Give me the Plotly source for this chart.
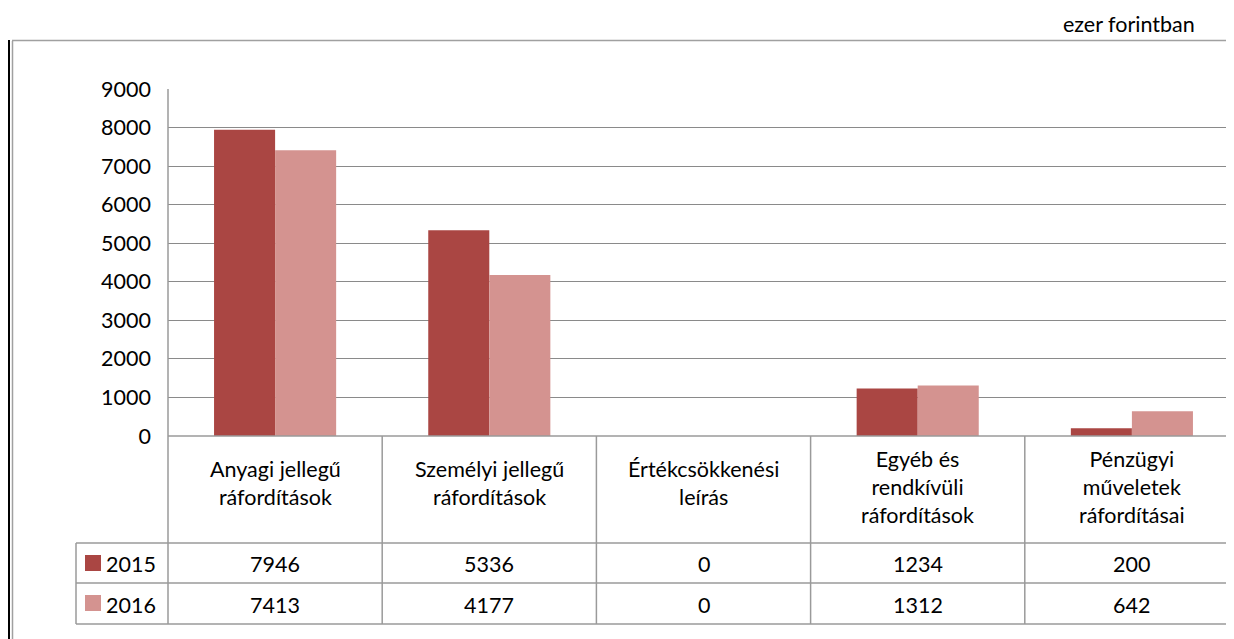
import plotly.graph_objects as go

categories = ["Anyagi jellegű<br>ráfordítások", "Személyi jellegű<br>ráfordítások",
              "Értékcsökkenési<br>leírás", "Egyéb és<br>rendkívüli<br>ráfordítások",
              "Pénzügyi<br>műveletek<br>ráfordításai"]
series_names = ["2015", "2016"]
values_2015 = [7946, 5336, 0, 1234, 200]
values_2016 = [7413, 4177, 0, 1312, 642]
y_ticks = [0, 1000, 2000, 3000, 4000, 5000, 6000, 7000, 8000, 9000]
unit_label = "ezer forintban"

W, H = 1234, 639
OX, OY = 8, 8  # page body offset
FONT = "Lato"
FS = 21.5
C15 = "#AA4643"
C16 = "#D49390"
LINE = "#9a9a9a"
GRID = "#8a8a8a"

# target pixel layout (screen coordinates)
X0 = 168
Y_TOP, Y_ZERO = 89, 436
HEAD_BOT, ROW1_BOT, ROW2_BOT = 543, 583, 624
LEG_LEFT = 76


def px(x):
    return (x - OX) / W


def py(y):
    return (H - (y - OY)) / H


cat_w = 214.2
n = len(categories)
xr = [-0.5, -0.5 + (W + OX - X0) / cat_w]

fig = go.Figure()
fig.add_trace(go.Bar(x=list(range(n)), y=values_2015, name=series_names[0],
                     marker=dict(color=C15, line=dict(width=0))))
fig.add_trace(go.Bar(x=list(range(n)), y=values_2016, name=series_names[1],
                     marker=dict(color=C16, line=dict(width=0))))

shapes = []
for yy in [HEAD_BOT, ROW1_BOT, ROW2_BOT]:
    shapes.append(dict(type="line", xref="paper", yref="paper",
                       x0=px(LEG_LEFT), x1=1.0, y0=py(yy), y1=py(yy),
                       line=dict(color=LINE, width=1.5)))
shapes.append(dict(type="line", xref="paper", yref="paper",
                   x0=px(X0), x1=1.0, y0=py(Y_ZERO), y1=py(Y_ZERO),
                   line=dict(color=LINE, width=1.5)))
shapes.append(dict(type="line", xref="paper", yref="paper",
                   x0=px(X0), x1=px(X0), y0=py(Y_TOP), y1=py(ROW2_BOT),
                   line=dict(color=LINE, width=1.5)))
shapes.append(dict(type="line", xref="paper", yref="paper",
                   x0=px(LEG_LEFT), x1=px(LEG_LEFT), y0=py(HEAD_BOT), y1=py(ROW2_BOT),
                   line=dict(color=LINE, width=1.5)))
for i in range(1, n + 1):
    shapes.append(dict(type="line", xref="x", yref="paper",
                       x0=i - 0.5, x1=i - 0.5, y0=py(Y_ZERO), y1=py(ROW2_BOT),
                       line=dict(color=LINE, width=1.5)))
# outer chart border
shapes.append(dict(type="line", xref="paper", yref="paper",
                   x0=px(9), x1=px(9), y0=py(40), y1=py(H + 10),
                   line=dict(color="#000000", width=2)))
shapes.append(dict(type="line", xref="paper", yref="paper",
                   x0=px(12.5), x1=px(12.5), y0=py(41), y1=py(H + 10),
                   line=dict(color="#a0a0a0", width=1.5)))
shapes.append(dict(type="line", xref="paper", yref="paper",
                   x0=px(12), x1=1.0, y0=py(40.5), y1=py(40.5),
                   line=dict(color="#a0a0a0", width=1.5)))
for yy, col in [(563, C15), (603, C16)]:
    shapes.append(dict(type="rect", xref="paper", yref="paper",
                       x0=px(85), x1=px(101), y0=py(yy - 8), y1=py(yy + 8),
                       fillcolor=col, line=dict(width=0)))

annotations = []
for i, cat in enumerate(categories):
    lines = cat.count("<br>") + 1
    yc = 483 if lines == 2 else 487
    annotations.append(dict(x=i, xref="x", y=py(yc), yref="paper", text=cat,
                            showarrow=False, align="center", xanchor="center",
                            yanchor="middle", font=dict(family=FONT, size=FS, color="#000")))
    annotations.append(dict(x=i, xref="x", y=py(564), yref="paper", text=str(values_2015[i]),
                            showarrow=False, xanchor="center", yanchor="middle",
                            font=dict(family=FONT, size=FS, color="#000")))
    annotations.append(dict(x=i, xref="x", y=py(605), yref="paper", text=str(values_2016[i]),
                            showarrow=False, xanchor="center", yanchor="middle",
                            font=dict(family=FONT, size=FS, color="#000")))
for yy, name in [(564, series_names[0]), (605, series_names[1])]:
    annotations.append(dict(x=px(104), xref="paper", y=py(yy), yref="paper", text=name,
                            showarrow=False, xanchor="left", yanchor="middle",
                            font=dict(family=FONT, size=FS, color="#000")))
annotations.append(dict(x=px(1197), xref="paper", y=py(24), yref="paper", text=unit_label,
                        showarrow=False, xanchor="right", yanchor="middle",
                        font=dict(family=FONT, size=FS, color="#000")))

fig.update_layout(
    width=W, height=H,
    margin=dict(l=0, r=0, t=0, b=0, pad=0, autoexpand=False),
    paper_bgcolor="white", plot_bgcolor="white",
    showlegend=False,
    barmode="group", bargap=0.43, bargroupgap=0,
    xaxis=dict(domain=[px(X0), 1.0], range=xr, showticklabels=False, showgrid=False,
               zeroline=False, showline=False, ticks="", automargin=False),
    yaxis=dict(domain=[py(Y_ZERO), py(Y_TOP)], range=[0, 9000], tickvals=y_ticks,
               showgrid=True, gridcolor=GRID, gridwidth=1, zeroline=False,
               showline=False, ticks="", ticklabelstandoff=16, automargin=False,
               tickfont=dict(family=FONT, size=FS, color="#000")),
    shapes=shapes, annotations=annotations,
)

fig.write_html("out.html")
